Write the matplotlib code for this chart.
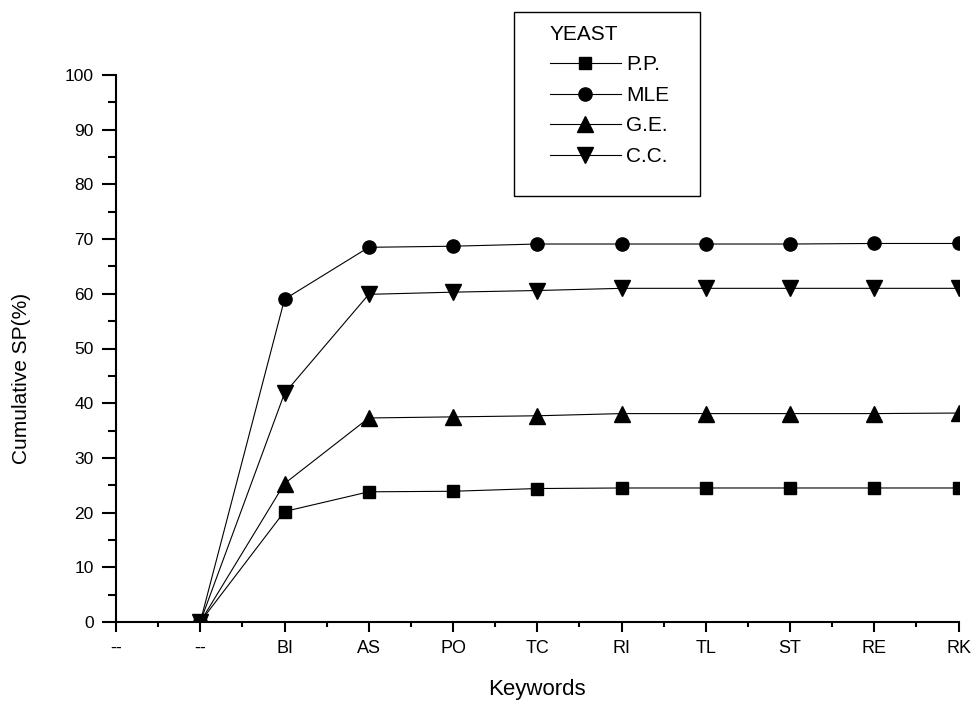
import numpy as np
import matplotlib
matplotlib.use("Agg")
import matplotlib.pyplot as plt
from matplotlib.patches import Rectangle

plt.rcParams['font.family'] = ['Liberation Sans', 'DejaVu Sans']

# categories along the x axis
keywords = ["--", "--", "BI", "AS", "PO", "TC", "RI", "TL", "ST", "RE", "RK"]

# cumulative SP (%) per series, starting at the second "--"
pp_vals = [0, 20.2, 23.8, 23.9, 24.4, 24.5, 24.5, 24.5, 24.5, 24.5]
mle_vals = [0, 59.0, 68.5, 68.7, 69.1, 69.1, 69.1, 69.1, 69.2, 69.2]
ge_vals = [0, 25.3, 37.3, 37.5, 37.7, 38.1, 38.1, 38.1, 38.1, 38.2]
cc_vals = [0, 41.8, 59.9, 60.3, 60.6, 61.0, 61.0, 61.0, 61.0, 61.0]

series_names = ["P.P.", "MLE", "G.E.", "C.C."]
series_vals = [pp_vals, mle_vals, ge_vals, cc_vals]
markers = ["s", "o", "^", "v"]
msizes = [9, 9.5, 11, 11]

fig = plt.figure(figsize=(9.77, 7.01), dpi=100)
ax = fig.add_axes([116 / 977, 1 - 622 / 701, (958.5 - 116) / 977, (622 - 75) / 701])

x = np.arange(1, len(keywords))
for name, vals, mk, ms in zip(series_names, series_vals, markers, msizes):
    ax.plot(x, vals, color="black", lw=0.8, marker=mk, ms=ms,
            markerfacecolor="black", markeredgecolor="black", label=name)

ax.set_xlim(0, len(keywords) - 1)
ax.set_ylim(0, 100)
ax.set_xticks(np.arange(len(keywords)))
ax.set_xticklabels(keywords)
ax.set_xticks(np.arange(0.5, len(keywords) - 1, 1), minor=True)
ax.set_yticks(np.arange(0, 101, 10))
ax.set_yticks(np.arange(5, 100, 10), minor=True)

for s in ["top", "right"]:
    ax.spines[s].set_visible(False)
for s in ["left", "bottom"]:
    ax.spines[s].set_linewidth(1.5)

ax.tick_params(axis="x", which="major", length=7, width=1.5, pad=6, labelsize=13)
ax.tick_params(axis="x", which="minor", length=3.5, width=1.5)
ax.tick_params(axis="y", which="major", length=10, width=1.5, pad=6, labelsize=12.5)
ax.tick_params(axis="y", which="minor", length=5.5, width=1.5)

ax.set_xlabel("Keywords", fontsize=16)
ax.xaxis.set_label_coords(0.5, (622 - 689) / 547)
ax.xaxis.label.set_verticalalignment("center")
ax.set_ylabel("Cumulative SP(%)", fontsize=15)
ax.yaxis.set_label_coords(-0.101, 0.446)

# legend box drawn in figure coords, legend itself frameless
fig.patches.append(Rectangle((514 / 977, 1 - 196 / 701), (700 - 514) / 977, (196 - 12) / 701,
                             transform=fig.transFigure, fill=False, edgecolor="black", lw=1.0))
leg = ax.legend(title="YEAST", loc="upper left", bbox_to_anchor=(550 / 977, 1 - 25 / 701),
                bbox_transform=fig.transFigure, frameon=False, fontsize=15, title_fontsize=15,
                handlelength=3.4, handletextpad=0.25, labelspacing=0.55, alignment="left",
                borderpad=0, borderaxespad=0)

fig.savefig("out.png", dpi=100)
